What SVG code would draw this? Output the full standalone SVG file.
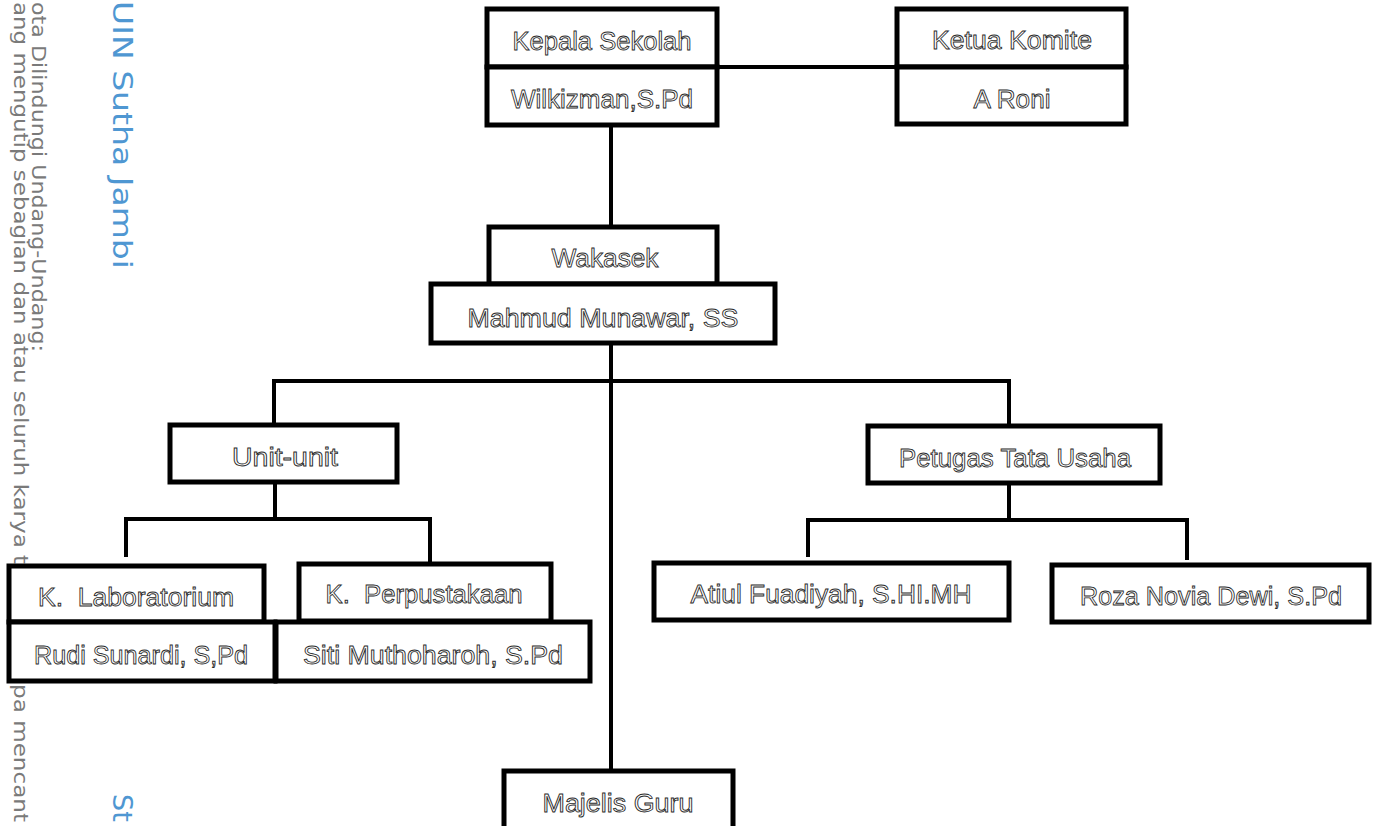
<svg xmlns="http://www.w3.org/2000/svg" width="1379" height="826" viewBox="0 0 1379 826">
<style>
.bg{fill:#ffffff}
.wm{font-family:"DejaVu Sans",sans-serif;font-size:19px;fill:#7a7a7a}
.wmb{font-family:"DejaVu Sans",sans-serif;font-size:27px;fill:#4f97d2}
.box{fill:#ffffff;stroke:#000000;stroke-width:5}
.lbl{font-family:"Liberation Sans",Arial,sans-serif;font-size:25px;fill:#ffffff;stroke:#2a2a2a;stroke-width:0.85;text-anchor:middle}
.con{stroke:#000000;stroke-width:4;fill:none}
</style>
<rect class="bg" x="0" y="0" width="1379" height="826"/>
<g id="watermark">
<text class="wmb" transform="translate(113,1) rotate(90)" x="0" y="0" textLength="268" lengthAdjust="spacingAndGlyphs">UIN Sutha Jambi</text>
<text class="wmb" transform="translate(113,794) rotate(90)" x="0" y="0">St</text>
<text class="wm" transform="translate(32,2) rotate(90)" x="0" y="0" textLength="350" lengthAdjust="spacingAndGlyphs">ota Dilindungi Undang-Undang:</text>
<text class="wm" transform="translate(14,2) rotate(90)" x="0" y="0" textLength="562" lengthAdjust="spacingAndGlyphs">ang mengutip sebagian dan atau seluruh karya t</text>
<text class="wm" transform="translate(14,684) rotate(90)" x="0" y="0" textLength="138" lengthAdjust="spacingAndGlyphs">pa mencant</text>
</g>
<g id="connectors">
<line class="con" x1="717" y1="67" x2="897" y2="67"/>
<line class="con" x1="611" y1="125" x2="611" y2="227"/>
<line class="con" x1="611" y1="343" x2="611" y2="771"/>
<polyline class="con" points="274,425 274,381 1009,381 1009,426"/>
<line class="con" x1="275" y1="482" x2="275" y2="519"/>
<polyline class="con" points="126,557 126,519 430,519 430,562"/>
<line class="con" x1="1009" y1="483" x2="1009" y2="520"/>
<polyline class="con" points="808,557 808,520 1187,520 1187,560"/>
</g>
<g id="kepala-sekolah">
<rect class="box" x="487" y="9" width="230" height="58"/>
<text class="lbl" x="602" y="50" textLength="179" lengthAdjust="spacingAndGlyphs">Kepala Sekolah</text>
<rect class="box" x="487" y="67" width="230" height="58"/>
<text class="lbl" x="602" y="108" textLength="182" lengthAdjust="spacingAndGlyphs">Wilkizman,S.Pd</text>
</g>
<g id="ketua-komite">
<rect class="box" x="897" y="9" width="229" height="58"/>
<text class="lbl" x="1012" y="49" textLength="160" lengthAdjust="spacingAndGlyphs">Ketua Komite</text>
<rect class="box" x="897" y="67" width="229" height="57"/>
<text class="lbl" x="1012" y="108" textLength="77" lengthAdjust="spacingAndGlyphs">A Roni</text>
</g>
<g id="wakasek">
<rect class="box" x="489" y="227" width="228" height="57"/>
<text class="lbl" x="605" y="267" textLength="107" lengthAdjust="spacingAndGlyphs">Wakasek</text>
<rect class="box" x="431" y="284" width="344" height="59"/>
<text class="lbl" x="603" y="327" textLength="271" lengthAdjust="spacingAndGlyphs">Mahmud Munawar, SS</text>
</g>
<g id="unit-unit">
<rect class="box" x="170" y="425" width="227" height="57"/>
<text class="lbl" x="285" y="466" textLength="106" lengthAdjust="spacingAndGlyphs">Unit-unit</text>
</g>
<g id="petugas-tata-usaha">
<rect class="box" x="868" y="426" width="292" height="57"/>
<text class="lbl" x="1015" y="467" textLength="232" lengthAdjust="spacingAndGlyphs">Petugas Tata Usaha</text>
</g>
<g id="k-laboratorium">
<rect class="box" x="9" y="566" width="255" height="56"/>
<text class="lbl" x="136" y="606" xml:space="preserve" textLength="196" lengthAdjust="spacingAndGlyphs">K.  Laboratorium</text>
<rect class="box" x="9" y="622" width="266" height="59"/>
<text class="lbl" x="141" y="664" textLength="214" lengthAdjust="spacingAndGlyphs">Rudi Sunardi, S,Pd</text>
</g>
<g id="k-perpustakaan">
<rect class="box" x="299" y="564" width="252" height="57"/>
<text class="lbl" x="424" y="603" xml:space="preserve" textLength="197" lengthAdjust="spacingAndGlyphs">K.  Perpustakaan</text>
<rect class="box" x="276" y="622" width="314" height="59"/>
<text class="lbl" x="433" y="664" textLength="260" lengthAdjust="spacingAndGlyphs">Siti Muthoharoh, S.Pd</text>
</g>
<g id="atiul">
<rect class="box" x="654" y="563" width="355" height="57"/>
<text class="lbl" x="831" y="603" textLength="281" lengthAdjust="spacingAndGlyphs">Atiul Fuadiyah, S.HI.MH</text>
</g>
<g id="roza">
<rect class="box" x="1052" y="565" width="317" height="57"/>
<text class="lbl" x="1211" y="605" textLength="262" lengthAdjust="spacingAndGlyphs">Roza Novia Dewi, S.Pd</text>
</g>
<g id="majelis-guru">
<rect class="box" x="504" y="771" width="229" height="70"/>
<text class="lbl" x="618" y="812" textLength="151" lengthAdjust="spacingAndGlyphs">Majelis Guru</text>
</g>
</svg>
